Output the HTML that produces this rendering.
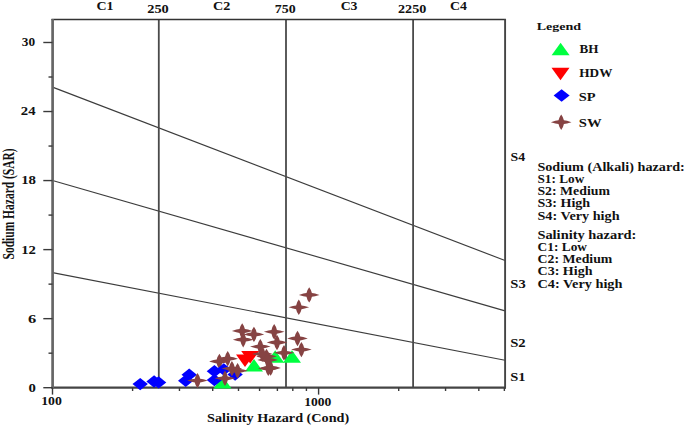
<!DOCTYPE html><html><head><meta charset="utf-8"><style>html,body{margin:0;padding:0;background:#fff;}svg{display:block}text{font-family:"Liberation Serif",serif;font-weight:bold;fill:#111}</style></head><body>
<svg width="685" height="425" viewBox="0 0 685 425">
<rect width="685" height="425" fill="#fff"/>
<g stroke="#3c3c3c" stroke-width="1.15" fill="none">
<line x1="52.5" y1="87.1" x2="505" y2="260.5"/>
<line x1="52.5" y1="180.5" x2="505" y2="310.9"/>
<line x1="52.5" y1="272.6" x2="505" y2="360.2"/>
</g>
<g stroke="#4a4a4a" stroke-width="1.8" fill="none">
<line x1="158.8" y1="19.6" x2="158.8" y2="387.7"/>
<line x1="286.0" y1="19.6" x2="286.0" y2="387.7"/>
<line x1="413.1" y1="19.6" x2="413.1" y2="387.7"/>
</g>
<line x1="51.5" y1="19.5" x2="505.9" y2="19.5" stroke="#333" stroke-width="1.3"/>
<line x1="505.1" y1="19" x2="505.1" y2="388.6" stroke="#444" stroke-width="1.9"/>
<line x1="51.3" y1="387.6" x2="506" y2="387.6" stroke="#444" stroke-width="2.1"/>
<line x1="52.6" y1="18.9" x2="52.6" y2="388.6" stroke="#666" stroke-width="2.7"/>
<g stroke="#3a3a3a" stroke-width="1.4">
<line x1="43.3" y1="387.70" x2="52.5" y2="387.70"/>
<line x1="48.5" y1="353.18" x2="52.5" y2="353.18"/>
<line x1="43.3" y1="318.66" x2="52.5" y2="318.66"/>
<line x1="48.5" y1="284.14" x2="52.5" y2="284.14"/>
<line x1="43.3" y1="249.62" x2="52.5" y2="249.62"/>
<line x1="48.5" y1="215.09" x2="52.5" y2="215.09"/>
<line x1="43.3" y1="180.57" x2="52.5" y2="180.57"/>
<line x1="48.5" y1="146.05" x2="52.5" y2="146.05"/>
<line x1="43.3" y1="111.53" x2="52.5" y2="111.53"/>
<line x1="48.5" y1="77.01" x2="52.5" y2="77.01"/>
<line x1="43.3" y1="42.49" x2="52.5" y2="42.49"/>
<line x1="132.60" y1="387.7" x2="132.60" y2="391.0"/>
<line x1="179.46" y1="387.7" x2="179.46" y2="391.0"/>
<line x1="212.71" y1="387.7" x2="212.71" y2="391.0"/>
<line x1="238.50" y1="387.7" x2="238.50" y2="391.0"/>
<line x1="259.57" y1="387.7" x2="259.57" y2="391.0"/>
<line x1="277.38" y1="387.7" x2="277.38" y2="391.0"/>
<line x1="292.81" y1="387.7" x2="292.81" y2="391.0"/>
<line x1="306.42" y1="387.7" x2="306.42" y2="391.0"/>
<line x1="398.70" y1="387.7" x2="398.70" y2="391.0"/>
<line x1="445.56" y1="387.7" x2="445.56" y2="391.0"/>
<line x1="478.81" y1="387.7" x2="478.81" y2="391.0"/>
<line x1="504.36" y1="387.7" x2="504.36" y2="391.0"/>
<line x1="52.50" y1="387.7" x2="52.50" y2="394.6"/>
<line x1="318.60" y1="387.7" x2="318.60" y2="394.6"/>
</g>
<text transform="translate(96.54,9.50) scale(1.1928,1)" font-size="11.7">C1</text>
<text transform="translate(212.93,9.50) scale(1.2123,1)" font-size="11.7">C2</text>
<text transform="translate(340.65,9.50) scale(1.1795,1)" font-size="11.7">C3</text>
<text transform="translate(449.94,9.50) scale(1.1885,1)" font-size="11.7">C4</text>
<text transform="translate(147.22,13.30) scale(1.2312,1)" font-size="11.7">250</text>
<text transform="translate(274.80,13.30) scale(1.1918,1)" font-size="11.7">750</text>
<text transform="translate(398.03,13.30) scale(1.2090,1)" font-size="11.7">2250</text>
<text transform="translate(21.80,45.80) scale(1.1366,1)" font-size="11.7">30</text>
<text transform="translate(20.81,115.40) scale(1.2596,1)" font-size="11.7">24</text>
<text transform="translate(21.21,184.00) scale(1.2676,1)" font-size="11.7">18</text>
<text transform="translate(21.22,254.00) scale(1.2626,1)" font-size="11.7">12</text>
<text transform="translate(28.01,322.60) scale(1.4055,1)" font-size="11.7">6</text>
<text transform="translate(28.46,392.00) scale(1.2626,1)" font-size="11.7">0</text>
<text transform="translate(41.19,405.40) scale(1.1806,1)" font-size="11.7">100</text>
<text transform="translate(304.21,405.60) scale(1.1622,1)" font-size="11.7">1000</text>
<text transform="translate(207.09,421.50) scale(1.2155,1)" font-size="11.7">Salinity Hazard (Cond)</text>
<text transform="translate(536.76,29.50) scale(1.3234,1)" font-size="10.6">Legend</text>
<text transform="translate(579.47,53.40) scale(1.1200,1)" font-size="11.7">BH</text>
<text transform="translate(579.37,77.20) scale(1.1270,1)" font-size="11.7">HDW</text>
<text transform="translate(578.78,101.00) scale(1.2320,1)" font-size="11.7">SP</text>
<text transform="translate(578.76,126.90) scale(1.2568,1)" font-size="11.7">SW</text>
<text transform="translate(510.61,161.10) scale(1.1840,1)" font-size="11.7">S4</text>
<text transform="translate(510.37,287.80) scale(1.2433,1)" font-size="11.7">S3</text>
<text transform="translate(510.17,346.60) scale(1.2562,1)" font-size="11.7">S2</text>
<text transform="translate(510.17,380.70) scale(1.2425,1)" font-size="11.7">S1</text>
<text transform="translate(537.39,171.00) scale(1.2132,1)" font-size="11.7">Sodium (Alkali) hazard:</text>
<text transform="translate(537.44,183.10) scale(1.1335,1)" font-size="11.7">S1: Low</text>
<text transform="translate(537.41,195.30) scale(1.1815,1)" font-size="11.7">S2: Medium</text>
<text transform="translate(537.40,207.40) scale(1.2029,1)" font-size="11.7">S3: High</text>
<text transform="translate(537.39,219.70) scale(1.2178,1)" font-size="11.7">S4: Very high</text>
<text transform="translate(537.38,239.40) scale(1.2346,1)" font-size="11.7">Salinity hazard:</text>
<text transform="translate(537.56,251.30) scale(1.1444,1)" font-size="11.7">C1: Low</text>
<text transform="translate(537.55,263.30) scale(1.1809,1)" font-size="11.7">C2: Medium</text>
<text transform="translate(537.54,275.30) scale(1.1990,1)" font-size="11.7">C3: High</text>
<text transform="translate(537.53,287.60) scale(1.2220,1)" font-size="11.7">C4: Very high</text>
<text transform="translate(14.0,259.4) rotate(-90) scale(1,1.45)" font-size="11" textLength="111" lengthAdjust="spacingAndGlyphs">Sodium Hazard (SAR)</text>
<polygon points="560.60,42.75 569.60,55.25 551.60,55.25" fill="#00ff40"/>
<polygon points="551.50,67.85 569.50,67.85 560.50,80.35" fill="#ff0000"/>
<polygon points="561.60,89.30 569.60,95.50 561.60,101.70 553.60,95.50" fill="#0000ff"/>
<path d="M561.20,114.50 Q563.50,117.58 563.90,120.30 Q566.35,120.49 571.50,122.20 Q566.35,123.91 563.90,124.10 Q563.50,126.82 561.20,129.90 Q558.91,126.82 558.50,124.10 Q556.05,123.91 550.90,122.20 Q556.05,120.49 558.50,120.30 Q558.91,117.58 561.20,114.50Z" fill="#864343"/>
<polygon points="222.50,375.95 231.50,388.45 213.50,388.45" fill="#00ff40"/>
<polygon points="275.20,350.35 284.20,362.85 266.20,362.85" fill="#00ff40"/>
<polygon points="292.00,350.25 301.00,362.75 283.00,362.75" fill="#00ff40"/>
<polygon points="254.00,358.95 263.00,371.45 245.00,371.45" fill="#00ff40"/>
<polygon points="140.20,377.90 147.90,384.10 140.20,390.30 132.50,384.10" fill="#0000ff"/>
<polygon points="154.10,375.30 161.80,381.50 154.10,387.70 146.40,381.50" fill="#0000ff"/>
<polygon points="158.60,376.20 166.30,382.40 158.60,388.60 150.90,382.40" fill="#0000ff"/>
<polygon points="185.70,374.50 193.40,380.70 185.70,386.90 178.00,380.70" fill="#0000ff"/>
<polygon points="189.20,368.50 196.90,374.70 189.20,380.90 181.50,374.70" fill="#0000ff"/>
<polygon points="214.40,365.00 222.10,371.20 214.40,377.40 206.70,371.20" fill="#0000ff"/>
<polygon points="214.40,373.90 222.10,380.10 214.40,386.30 206.70,380.10" fill="#0000ff"/>
<polygon points="235.10,368.30 242.80,374.50 235.10,380.70 227.40,374.50" fill="#0000ff"/>
<polygon points="236.00,354.55 254.00,354.55 245.00,367.05" fill="#ff0000"/>
<polygon points="241.20,351.05 259.20,351.05 250.20,363.55" fill="#ff0000"/>
<path d="M309.20,287.20 Q311.50,290.28 311.90,293.00 Q314.35,293.19 319.50,294.90 Q314.35,296.61 311.90,296.80 Q311.50,299.52 309.20,302.60 Q306.90,299.52 306.50,296.80 Q304.05,296.61 298.90,294.90 Q304.05,293.19 306.50,293.00 Q306.90,290.28 309.20,287.20Z" fill="#864343"/>
<path d="M298.80,299.60 Q301.10,302.68 301.50,305.40 Q303.95,305.59 309.10,307.30 Q303.95,309.01 301.50,309.20 Q301.10,311.92 298.80,315.00 Q296.50,311.92 296.10,309.20 Q293.65,309.01 288.50,307.30 Q293.65,305.59 296.10,305.40 Q296.50,302.68 298.80,299.60Z" fill="#864343"/>
<path d="M242.20,323.30 Q244.49,326.38 244.90,329.10 Q247.35,329.29 252.50,331.00 Q247.35,332.71 244.90,332.90 Q244.49,335.62 242.20,338.70 Q239.91,335.62 239.50,332.90 Q237.05,332.71 231.90,331.00 Q237.05,329.29 239.50,329.10 Q239.91,326.38 242.20,323.30Z" fill="#864343"/>
<path d="M243.20,332.00 Q245.49,335.08 245.90,337.80 Q248.35,337.99 253.50,339.70 Q248.35,341.41 245.90,341.60 Q245.49,344.32 243.20,347.40 Q240.91,344.32 240.50,341.60 Q238.05,341.41 232.90,339.70 Q238.05,337.99 240.50,337.80 Q240.91,335.08 243.20,332.00Z" fill="#864343"/>
<path d="M253.90,326.70 Q256.19,329.78 256.60,332.50 Q259.05,332.69 264.20,334.40 Q259.05,336.11 256.60,336.30 Q256.19,339.02 253.90,342.10 Q251.61,339.02 251.20,336.30 Q248.75,336.11 243.60,334.40 Q248.75,332.69 251.20,332.50 Q251.61,329.78 253.90,326.70Z" fill="#864343"/>
<path d="M274.20,324.10 Q276.50,327.18 276.90,329.90 Q279.35,330.09 284.50,331.80 Q279.35,333.51 276.90,333.70 Q276.50,336.42 274.20,339.50 Q271.90,336.42 271.50,333.70 Q269.05,333.51 263.90,331.80 Q269.05,330.09 271.50,329.90 Q271.90,327.18 274.20,324.10Z" fill="#864343"/>
<path d="M277.00,334.80 Q279.30,337.88 279.70,340.60 Q282.15,340.79 287.30,342.50 Q282.15,344.21 279.70,344.40 Q279.30,347.12 277.00,350.20 Q274.70,347.12 274.30,344.40 Q271.85,344.21 266.70,342.50 Q271.85,340.79 274.30,340.60 Q274.70,337.88 277.00,334.80Z" fill="#864343"/>
<path d="M297.50,330.80 Q299.80,333.88 300.20,336.60 Q302.65,336.79 307.80,338.50 Q302.65,340.21 300.20,340.40 Q299.80,343.12 297.50,346.20 Q295.20,343.12 294.80,340.40 Q292.35,340.21 287.20,338.50 Q292.35,336.79 294.80,336.60 Q295.20,333.88 297.50,330.80Z" fill="#864343"/>
<path d="M301.40,341.90 Q303.69,344.98 304.10,347.70 Q306.55,347.89 311.70,349.60 Q306.55,351.31 304.10,351.50 Q303.69,354.22 301.40,357.30 Q299.10,354.22 298.70,351.50 Q296.25,351.31 291.10,349.60 Q296.25,347.89 298.70,347.70 Q299.10,344.98 301.40,341.90Z" fill="#864343"/>
<path d="M284.00,345.10 Q286.30,348.18 286.70,350.90 Q289.15,351.09 294.30,352.80 Q289.15,354.51 286.70,354.70 Q286.30,357.42 284.00,360.50 Q281.70,357.42 281.30,354.70 Q278.85,354.51 273.70,352.80 Q278.85,351.09 281.30,350.90 Q281.70,348.18 284.00,345.10Z" fill="#864343"/>
<path d="M260.30,338.90 Q262.60,341.98 263.00,344.70 Q265.45,344.89 270.60,346.60 Q265.45,348.31 263.00,348.50 Q262.60,351.22 260.30,354.30 Q258.00,351.22 257.60,348.50 Q255.15,348.31 250.00,346.60 Q255.15,344.89 257.60,344.70 Q258.00,341.98 260.30,338.90Z" fill="#864343"/>
<path d="M266.50,348.80 Q268.80,351.88 269.20,354.60 Q271.65,354.79 276.80,356.50 Q271.65,358.21 269.20,358.40 Q268.80,361.12 266.50,364.20 Q264.20,361.12 263.80,358.40 Q261.35,358.21 256.20,356.50 Q261.35,354.79 263.80,354.60 Q264.20,351.88 266.50,348.80Z" fill="#864343"/>
<path d="M262.40,346.30 Q264.69,349.38 265.10,352.10 Q267.55,352.29 272.70,354.00 Q267.55,355.71 265.10,355.90 Q264.69,358.62 262.40,361.70 Q260.10,358.62 259.70,355.90 Q257.25,355.71 252.10,354.00 Q257.25,352.29 259.70,352.10 Q260.10,349.38 262.40,346.30Z" fill="#864343"/>
<path d="M270.60,360.30 Q272.90,363.38 273.30,366.10 Q275.75,366.29 280.90,368.00 Q275.75,369.71 273.30,369.90 Q272.90,372.62 270.60,375.70 Q268.31,372.62 267.90,369.90 Q265.45,369.71 260.30,368.00 Q265.45,366.29 267.90,366.10 Q268.31,363.38 270.60,360.30Z" fill="#864343"/>
<path d="M268.30,360.70 Q270.60,363.78 271.00,366.50 Q273.45,366.69 278.60,368.40 Q273.45,370.11 271.00,370.30 Q270.60,373.02 268.30,376.10 Q266.00,373.02 265.60,370.30 Q263.15,370.11 258.00,368.40 Q263.15,366.69 265.60,366.50 Q266.00,363.78 268.30,360.70Z" fill="#864343"/>
<path d="M267.60,352.30 Q269.90,355.38 270.30,358.10 Q272.75,358.29 277.90,360.00 Q272.75,361.71 270.30,361.90 Q269.90,364.62 267.60,367.70 Q265.31,364.62 264.90,361.90 Q262.45,361.71 257.30,360.00 Q262.45,358.29 264.90,358.10 Q265.31,355.38 267.60,352.30Z" fill="#864343"/>
<path d="M197.50,372.90 Q199.79,375.98 200.20,378.70 Q202.65,378.89 207.80,380.60 Q202.65,382.31 200.20,382.50 Q199.79,385.22 197.50,388.30 Q195.21,385.22 194.80,382.50 Q192.35,382.31 187.20,380.60 Q192.35,378.89 194.80,378.70 Q195.21,375.98 197.50,372.90Z" fill="#864343"/>
<path d="M219.40,353.80 Q221.69,356.88 222.10,359.60 Q224.55,359.79 229.70,361.50 Q224.55,363.21 222.10,363.40 Q221.69,366.12 219.40,369.20 Q217.11,366.12 216.70,363.40 Q214.25,363.21 209.10,361.50 Q214.25,359.79 216.70,359.60 Q217.11,356.88 219.40,353.80Z" fill="#864343"/>
<path d="M227.70,351.00 Q229.99,354.08 230.40,356.80 Q232.85,356.99 238.00,358.70 Q232.85,360.41 230.40,360.60 Q229.99,363.32 227.70,366.40 Q225.41,363.32 225.00,360.60 Q222.55,360.41 217.40,358.70 Q222.55,356.99 225.00,356.80 Q225.41,354.08 227.70,351.00Z" fill="#864343"/>
<polygon points="223.80,363.30 231.50,369.50 223.80,375.70 216.10,369.50" fill="#0000ff"/>
<path d="M231.90,360.90 Q234.19,363.98 234.60,366.70 Q237.05,366.89 242.20,368.60 Q237.05,370.31 234.60,370.50 Q234.19,373.22 231.90,376.30 Q229.61,373.22 229.20,370.50 Q226.75,370.31 221.60,368.60 Q226.75,366.89 229.20,366.70 Q229.61,363.98 231.90,360.90Z" fill="#864343"/>
<path d="M237.60,363.10 Q239.89,366.18 240.30,368.90 Q242.75,369.09 247.90,370.80 Q242.75,372.51 240.30,372.70 Q239.89,375.42 237.60,378.50 Q235.31,375.42 234.90,372.70 Q232.45,372.51 227.30,370.80 Q232.45,369.09 234.90,368.90 Q235.31,366.18 237.60,363.10Z" fill="#864343"/>
<path d="M225.00,370.60 Q227.29,373.68 227.70,376.40 Q230.15,376.59 235.30,378.30 Q230.15,380.01 227.70,380.20 Q227.29,382.92 225.00,386.00 Q222.71,382.92 222.30,380.20 Q219.85,380.01 214.70,378.30 Q219.85,376.59 222.30,376.40 Q222.71,373.68 225.00,370.60Z" fill="#864343"/>
</svg></body></html>
